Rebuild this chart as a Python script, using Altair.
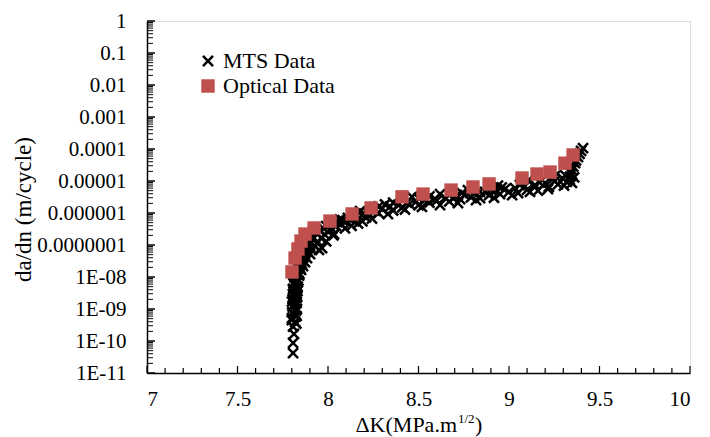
import altair as alt
import pandas as pd

# ---- data ----
mts_k = [7.807, 7.807, 7.812, 7.807, 7.818, 7.801, 7.812, 7.823, 7.807, 7.818,
         7.801, 7.815, 7.823, 7.812, 7.826, 7.818, 7.807, 7.829, 7.818, 7.810,
         7.834, 7.823, 7.840, 7.834, 7.830, 7.851,
         7.862, 7.873, 7.884, 7.901, 7.912, 7.928, 7.945, 7.961, 7.983, 8.000,
         8.022, 8.044, 8.072, 8.099, 8.127, 8.155, 8.188, 8.221, 8.260, 8.298,
         8.343, 8.387, 8.436, 8.486, 8.536, 8.591, 8.646, 8.702, 8.757, 8.812,
         8.867, 8.923, 8.978, 9.033, 9.088, 9.144, 9.199, 9.254, 9.298, 9.337,
         9.348, 9.365, 9.381, 9.398, 9.409,
         7.967, 8.033, 8.094, 8.166, 8.243, 8.331, 8.425, 8.519, 8.619, 8.718,
         8.818, 8.917, 9.017, 9.116, 9.215, 9.304, 9.348,
         8.066, 8.177, 8.315, 8.464, 8.619, 8.773, 8.939, 9.105, 9.254,
         7.825, 7.800, 7.826, 7.803, 7.828, 7.804, 7.827, 7.805, 7.830, 7.806,
         7.831, 7.808, 7.832, 7.812, 7.836, 7.815, 7.842, 7.826, 7.846, 7.838,
         7.855, 7.850, 7.866, 7.862, 7.880, 7.878, 7.895, 7.893, 7.915, 7.910,
         7.940, 7.955, 7.975, 7.990, 8.010, 8.050, 8.080, 8.110, 8.140, 8.200,
         8.210, 8.280, 8.280, 8.360, 8.360, 8.410, 8.450, 8.500, 8.500, 8.560,
         8.560, 8.600, 8.670, 8.670, 8.730, 8.740, 8.790, 8.840, 8.840, 8.890,
         8.900, 8.950, 8.960, 9.000, 9.050, 9.060, 9.100, 9.160, 9.170, 9.220,
         9.240, 9.270, 9.310, 9.320, 9.335, 9.345, 9.355, 9.370, 9.390, 9.360,
         7.950, 7.990, 8.030, 8.130, 8.190]
mts_da = [4.2e-11, 8.7e-11, 1.66e-10, 2.8e-10, 4.0e-10, 5.2e-10, 6.9e-10, 8.9e-10, 1.1e-9, 1.4e-9,
          1.7e-9, 1.9e-9, 2.2e-9, 2.6e-9, 3.0e-9, 3.3e-9, 4.0e-9, 4.6e-9, 5.6e-9, 6.2e-9,
          7.1e-9, 8.9e-9, 1.1e-8, 1.36e-8, 2.0e-8, 1.66e-8,
          2.2e-8, 2.9e-8, 3.9e-8, 5.2e-8, 7.0e-8, 9.3e-8, 1.24e-7, 1.66e-7, 2.1e-7, 2.6e-7,
          3.2e-7, 4.0e-7, 4.6e-7, 5.6e-7, 6.5e-7, 7.5e-7, 8.7e-7, 1.0e-6, 1.17e-6, 1.36e-6,
          1.58e-6, 1.8e-6, 2.1e-6, 2.25e-6, 2.6e-6, 2.8e-6, 3.0e-6, 3.2e-6, 3.7e-6, 3.9e-6,
          4.6e-6, 4.9e-6, 5.6e-6, 6.0e-6, 6.9e-6, 7.5e-6, 8.7e-6, 1.0e-5, 1.17e-5, 1.36e-5,
          2.2e-5, 3.6e-5, 5.6e-5, 8.7e-5, 1.06e-4,
          8.0e-8, 2.2e-7, 3.3e-7, 4.7e-7, 6.7e-7, 9.3e-7, 1.29e-6, 1.55e-6, 1.78e-6, 2.05e-6,
          2.55e-6, 3.0e-6, 3.6e-6, 4.6e-6, 5.6e-6, 7.2e-6, 8.7e-6,
          6.3e-7, 1.15e-6, 1.86e-6, 3.2e-6, 3.9e-6, 5.2e-6, 7.2e-6, 1.04e-5, 1.44e-5,
          3.5e-10, 4.5e-10, 6.0e-10, 7.8e-10, 1.0e-9, 1.25e-9, 1.55e-9, 2.0e-9, 2.4e-9, 2.9e-9,
          3.6e-9, 4.3e-9, 5.0e-9, 6.6e-9, 7.8e-9, 9.8e-9, 1.25e-8, 1.5e-8, 1.9e-8, 2.4e-8,
          2.6e-8, 3.4e-8, 4.4e-8, 5.8e-8, 6.2e-8, 8.2e-8, 1.0e-7, 1.3e-7, 1.5e-7, 1.9e-7,
          2.3e-7, 2.8e-7, 3.3e-7, 3.9e-7, 4.4e-7, 5.2e-7, 6.0e-7, 7.0e-7, 8.1e-7, 9.6e-7,
          7.3e-7, 1.0e-6, 1.6e-6, 1.2e-6, 2.1e-6, 1.5e-6, 1.9e-6, 1.75e-6, 2.9e-6, 2.1e-6,
          3.3e-6, 2.4e-6, 2.3e-6, 3.6e-6, 2.7e-6, 4.2e-6, 3.1e-6, 2.9e-6, 4.6e-6, 3.6e-6,
          5.4e-6, 3.9e-6, 6.3e-6, 4.6e-6, 4.2e-6, 7.5e-6, 5.3e-6, 5.0e-6, 9.0e-6, 6.6e-6,
          1.15e-5, 7.8e-6, 1.5e-5, 9.5e-6, 1.1e-5, 1.7e-5, 2.8e-5, 4.4e-5, 7.0e-5, 1.3e-5,
          7.0e-8, 1.3e-7, 2.0e-7, 4.0e-7, 5.5e-7]

opt_k = [7.801, 7.818, 7.834, 7.851, 7.873, 7.923, 8.011, 8.133, 8.238, 8.409,
         8.525, 8.680, 8.801, 8.890, 9.072, 9.155, 9.227, 9.309, 9.354]
opt_da = [1.44e-8, 3.9e-8, 7.5e-8, 1.33e-7, 2.2e-7, 3.4e-7, 5.6e-7, 9.3e-7, 1.44e-6, 3.2e-6,
          3.9e-6, 5.2e-6, 6.5e-6, 8.1e-6, 1.24e-5, 1.65e-5, 1.9e-5, 3.6e-5, 6.5e-5]

series_names = ["MTS Data", "Optical Data"]
series_colors = ["#000000", "#C0504D"]

x_major = [7, 7.5, 8, 8.5, 9, 9.5, 10]
x_minor = [round(7 + i * 0.1, 1) for i in range(1, 30) if i % 5 != 0]
y_major = [10.0 ** e for e in range(-11, 1)]
y_minor = [m * 10.0 ** e for e in range(-11, 0) for m in range(2, 10)]

FONT = "Liberation Serif"
FS = 21
W, H = 543, 352

xs = alt.Scale(domain=[7, 10], nice=False, zero=False)
ys = alt.Scale(type="log", domain=[1e-11, 1], nice=False)

XPATH = ("M-1,-0.7L-0.7,-1L0,-0.3L0.7,-1L1,-0.7L0.3,0L1,0.7L0.7,1L0,0.3"
         "L-0.7,1L-1,0.7L-0.3,0Z")

df = pd.DataFrame({
    "K": mts_k + opt_k,
    "da": mts_da + opt_da,
    "series": ["MTS Data"] * len(mts_k) + ["Optical Data"] * len(opt_k),
})

y_label_expr = ("datum.value >= 1e-7 ? format(datum.value, '.7~f') : "
                "'1E-' + (round(-log(datum.value)/LN10) < 10 ? '0' : '') + "
                "round(-log(datum.value)/LN10)")

points = alt.Chart(df).mark_point(filled=True, opacity=1, strokeWidth=0).encode(
    x=alt.X("K:Q", scale=xs, axis=alt.Axis(
        values=x_major, format="~g", title=None, grid=False, ticks=False, tickSize=0,
        labelPadding=15, labelFont=FONT, labelFontSize=FS, labelColor="black",
        domainColor="black", domainWidth=1.5)),
    y=alt.Y("da:Q", scale=ys, axis=alt.Axis(
        values=y_major, labelExpr=y_label_expr, grid=False, ticks=False, tickSize=0,
        labelPadding=21, labelFont=FONT, labelFontSize=FS, labelColor="black",
        domainColor="black", domainWidth=1.5,
        title="da/dn (m/cycle)", titleFont=FONT, titleFontSize=23, titleFontWeight="normal",
        titleColor="black", titleX=-124, titleY=H / 2 + 12, titleAngle=270,
        titleBaseline="middle", titleAlign="center")),
    color=alt.Color("series:N", scale=alt.Scale(domain=series_names, range=series_colors),
                    legend=alt.Legend(title=None, orient="none", legendX=50, legendY=29,
                                      labelFont=FONT, labelFontSize=22, labelColor="black",
                                      symbolSize=170, rowPadding=3, labelOffset=4,
                                      symbolStrokeWidth=0, padding=0)),
    shape=alt.Shape("series:N", scale=alt.Scale(domain=series_names, range=[XPATH, "square"])),
    size=alt.Size("series:N", scale=alt.Scale(domain=series_names, range=[140, 180]), legend=None),
)

xmaj = alt.Chart(pd.DataFrame({"K": x_major})).mark_rule(color="black", strokeWidth=1.2).encode(
    x=alt.X("K:Q", scale=xs), y=alt.value(H), y2=alt.value(H - 7))
xmin = alt.Chart(pd.DataFrame({"K": x_minor})).mark_rule(color="black", strokeWidth=1.2).encode(
    x=alt.X("K:Q", scale=xs), y=alt.value(H), y2=alt.value(H - 5))
ymaj = alt.Chart(pd.DataFrame({"da": y_major})).mark_rule(color="black", strokeWidth=1.5).encode(
    y=alt.Y("da:Q", scale=ys), x=alt.value(0), x2=alt.value(8))
ymin = alt.Chart(pd.DataFrame({"da": y_minor})).mark_rule(color="black", strokeWidth=1).encode(
    y=alt.Y("da:Q", scale=ys), x=alt.value(0), x2=alt.value(6))

t_main = alt.Chart(pd.DataFrame({"t": ["\u0394K(MPa.m"]})).mark_text(
    font=FONT, fontSize=22, align="right", baseline="alphabetic", color="black").encode(
    text="t:N", x=alt.value(310), y=alt.value(H + 59))
t_sup = alt.Chart(pd.DataFrame({"t": ["1/2"]})).mark_text(
    font=FONT, fontSize=13, align="left", baseline="alphabetic", color="black").encode(
    text="t:N", x=alt.value(311), y=alt.value(H + 50))
t_close = alt.Chart(pd.DataFrame({"t": [")"]})).mark_text(
    font=FONT, fontSize=22, align="left", baseline="alphabetic", color="black").encode(
    text="t:N", x=alt.value(328), y=alt.value(H + 59))

chart = alt.layer(xmin, xmaj, ymin, ymaj, points, t_main, t_sup, t_close).properties(
    width=W, height=H,
    autosize=alt.AutoSizeParams(type="none"),
    padding={"left": 139, "top": 13, "right": 12, "bottom": 64},
).configure_view(stroke=None).configure(background="white")

chart.save("out.html", embed_options={"renderer": "svg", "actions": False})
